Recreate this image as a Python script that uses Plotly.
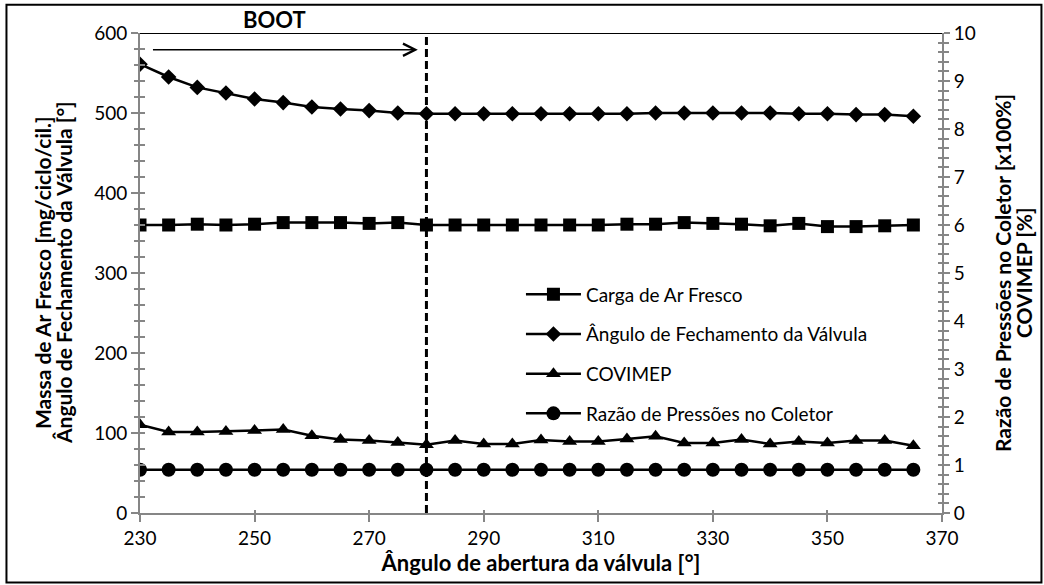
import plotly.graph_objects as go

# Ângulo de abertura da válvula [°]
abertura = [230, 235, 240, 245, 250, 255, 260, 265, 270, 275, 280, 285, 290, 295,
            300, 305, 310, 315, 320, 325, 330, 335, 340, 345, 350, 355, 360, 365]

# Left axis series
carga_ar = [360, 360, 361, 360, 361, 363, 363, 363, 362, 363, 360, 360, 360, 360,
            360, 360, 360, 361, 361, 363, 362, 361, 359, 362, 358, 358, 359, 360]
angulo_fech = [561, 545, 532, 525, 517.5, 513, 507.5, 505, 503, 500, 499, 499, 499, 499,
               499, 499, 499, 499, 500, 500, 500, 500, 500, 499, 499, 498, 498, 496]

# Right axis series
covimep = [1.84, 1.69, 1.69, 1.70, 1.72, 1.74, 1.61, 1.53, 1.51, 1.47, 1.42, 1.51, 1.44, 1.44,
           1.52, 1.49, 1.49, 1.54, 1.60, 1.46, 1.46, 1.53, 1.44, 1.49, 1.46, 1.51, 1.51, 1.40]
razao_press = [0.90, 0.90, 0.90, 0.90, 0.90, 0.90, 0.90, 0.90, 0.90, 0.90, 0.90, 0.90, 0.90, 0.90,
               0.90, 0.90, 0.90, 0.90, 0.90, 0.90, 0.90, 0.90, 0.90, 0.90, 0.90, 0.90, 0.90, 0.90]

boot_fim = 280

FONT = "Lato"
AXIS_GREY = "#868686"

fig = go.Figure()

series = [
    ("Carga de Ar Fresco", carga_ar, "square", 13, "y"),
    ("Ângulo de Fechamento da Válvula", angulo_fech, "diamond", 12, "y"),
    ("COVIMEP", covimep, "triangle-up", 13, "y2"),
    ("Razão de Pressões no Coletor", razao_press, "circle", 14, "y2"),
]
for name, vals, sym, size, yax in series:
    fig.add_trace(go.Scatter(
        x=abertura, y=vals, name=name, yaxis=yax, mode="lines+markers",
        line=dict(color="black", width=2.5),
        marker=dict(symbol=sym, size=size, color="black"),
        legendgroup=name,
    ))

tick_font = dict(family=FONT, size=19, color="black")

fig.update_layout(
    width=1044, height=585,
    paper_bgcolor="white", plot_bgcolor="white",
    margin=dict(l=140, r=102, t=33, b=72, autoexpand=False),
    font=dict(family=FONT, color="black"),
    showlegend=True,
    legend=dict(
        x=0.475, y=0.495, xanchor="left", yanchor="top",
        bgcolor="rgba(0,0,0,0)", font=dict(family=FONT, size=19, color="black"),
        itemwidth=55, tracegroupgap=12, traceorder="grouped",
    ),
    xaxis=dict(
        range=[230, 370], dtick=20, tick0=230, showgrid=False, zeroline=False,
        showline=True, linecolor=AXIS_GREY, linewidth=2,
        ticks="outside", ticklen=7, tickwidth=2, tickcolor=AXIS_GREY,
        tickfont=tick_font,
        title=dict(text="<b>Ângulo de abertura da válvula [°]</b>",
                   font=dict(family=FONT, size=22, color="black"), standoff=0),
    ),
    xaxis2=dict(
        overlaying="x", range=[230, 370], dtick=20, tick0=230, showgrid=False,
        zeroline=False, showline=False, showticklabels=False,
        ticks="inside", ticklen=3, tickwidth=2, tickcolor=AXIS_GREY,
    ),
    yaxis=dict(
        range=[0, 600], dtick=100, showgrid=False, zeroline=False,
        showline=True, linecolor=AXIS_GREY, linewidth=2,
        ticks="outside", ticklen=7, tickwidth=2, tickcolor=AXIS_GREY,
        minor=dict(dtick=20, ticks="outside", ticklen=4, tickwidth=2,
                   tickcolor=AXIS_GREY, showgrid=False),
        tickfont=tick_font,
    ),
    yaxis3=dict(
        overlaying="y", side="left", range=[0, 600], dtick=100, showgrid=False,
        zeroline=False, showline=False, showticklabels=False,
        ticks="inside", ticklen=5, tickwidth=2, tickcolor=AXIS_GREY,
        minor=dict(dtick=20, ticks="inside", ticklen=5, tickwidth=2,
                   tickcolor=AXIS_GREY, showgrid=False),
    ),
    yaxis2=dict(
        overlaying="y", side="right", anchor="x", range=[0, 10], dtick=1,
        showgrid=False, zeroline=False,
        showline=True, linecolor=AXIS_GREY, linewidth=2,
        ticks="outside", ticklen=6, tickwidth=2, tickcolor=AXIS_GREY,
        minor=dict(dtick=0.2, ticks="outside", ticklen=5, tickwidth=2,
                   tickcolor=AXIS_GREY, showgrid=False),
        tickfont=tick_font,
    ),
    yaxis4=dict(
        overlaying="y", side="right", anchor="x", range=[0, 10], dtick=1,
        showgrid=False, zeroline=False, showline=False, showticklabels=False,
        ticks="inside", ticklen=4, tickwidth=2, tickcolor=AXIS_GREY,
        minor=dict(dtick=0.2, ticks="inside", ticklen=4, tickwidth=2,
                   tickcolor=AXIS_GREY, showgrid=False),
    ),
)

# Empty traces so the tick-only companion axes get drawn
fig.add_trace(go.Scatter(x=[], y=[], xaxis="x2", yaxis="y3", showlegend=False))
fig.add_trace(go.Scatter(x=[], y=[], yaxis="y4", showlegend=False))

# Axis titles, one annotation per line
title_font = dict(family=FONT, size=21, color="black")
px_w = 802.0
left_titles = [(42, "Massa de Ar Fresco [mg/ciclo/cil.]"),
               (63, "Ângulo de Fechamento da Válvula [°]")]
right_titles = [(1002, "Razão de Pressões no Coletor [x100%]"),
                (1023, "COVIMEP [%]")]
for px, txt in left_titles + right_titles:
    fig.add_annotation(
        xref="paper", yref="paper", x=(px - 140) / px_w, y=0.5,
        xanchor="center", yanchor="middle", textangle=-90,
        text="<b>" + txt + "</b>", showarrow=False, font=title_font,
    )

# BOOT label and arrow
fig.add_annotation(
    xref="x", yref="paper", x=253.4, y=1.028, xanchor="center", yanchor="middle",
    text="<b>BOOT</b>", showarrow=False, font=dict(family=FONT, size=22, color="black"),
)
fig.add_annotation(
    xref="x", yref="y", axref="x", ayref="y",
    x=boot_fim - 1.5, y=579, ax=232, ay=579, text="",
    showarrow=True, arrowhead=5, arrowsize=1.6, arrowwidth=1.5,
    arrowcolor="black", standoff=0, startstandoff=0,
)

# Top edge of the plot area and end of boot marker
fig.add_shape(type="line", xref="x", yref="y", x0=230, x1=370, y0=600, y1=600,
              line=dict(color="black", width=2))
fig.add_shape(type="line", xref="x", yref="y", x0=boot_fim, x1=boot_fim, y0=0, y1=600,
              line=dict(color="black", width=3, dash="8px,4px"))

# Chart frame
fig.add_shape(type="rect", xref="paper", yref="paper",
              x0=-0.1665, x1=1.124, y0=-0.145, y1=1.059,
              line=dict(color="black", width=2), fillcolor="rgba(0,0,0,0)")

fig.write_html("out.html")
